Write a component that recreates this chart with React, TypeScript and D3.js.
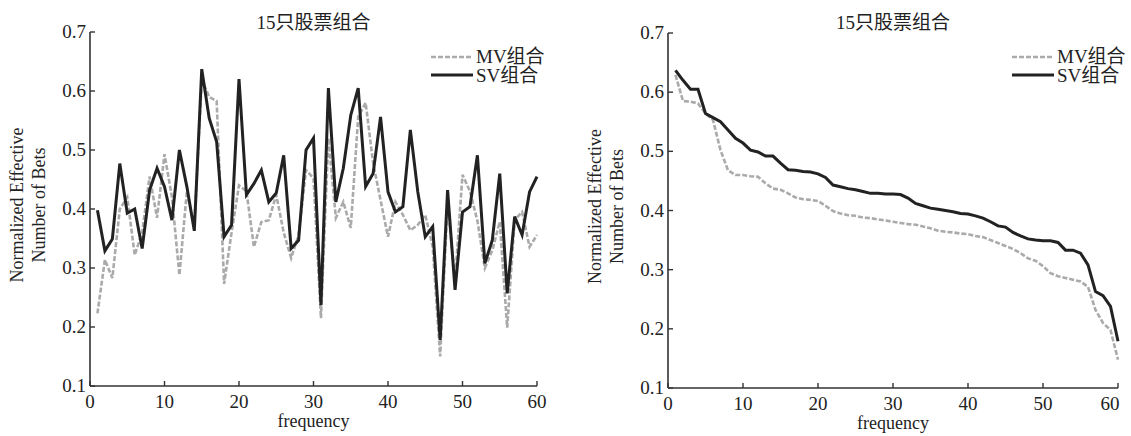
import React from 'react';
import * as d3 from 'd3';

// frequency 1..60
const freq = d3.range(1, 61);

// left panel: original order
const mvLeft = [
  0.223, 0.314, 0.283, 0.40, 0.42, 0.322, 0.36, 0.455, 0.385, 0.493,
  0.42, 0.288, 0.43, 0.37, 0.62, 0.59, 0.583, 0.273, 0.36, 0.44,
  0.43, 0.336, 0.378, 0.381, 0.424, 0.36, 0.317, 0.356, 0.466, 0.452,
  0.215, 0.52, 0.385, 0.412, 0.368, 0.556, 0.58, 0.478, 0.415, 0.353,
  0.412, 0.39, 0.364, 0.373, 0.39, 0.336, 0.15, 0.41, 0.28, 0.458,
  0.43, 0.38, 0.30, 0.33, 0.378, 0.199, 0.381, 0.395, 0.336, 0.356
];
const svLeft = [
  0.398, 0.329, 0.349, 0.477, 0.393, 0.40, 0.333, 0.432, 0.469, 0.438,
  0.381, 0.50, 0.438, 0.363, 0.637, 0.554, 0.514, 0.353, 0.373, 0.62,
  0.424, 0.443, 0.466, 0.412, 0.427, 0.491, 0.333, 0.347, 0.50, 0.52,
  0.237, 0.605, 0.412, 0.469, 0.559, 0.605, 0.438, 0.46, 0.556, 0.429,
  0.395, 0.404, 0.534, 0.429, 0.353, 0.37, 0.178, 0.432, 0.263, 0.395,
  0.404, 0.491, 0.308, 0.347, 0.46, 0.257, 0.387, 0.356, 0.429, 0.455
];

// right panel: sorted
const mvRight = [
  0.629, 0.585, 0.584, 0.581, 0.564, 0.553, 0.502, 0.468, 0.46, 0.46,
  0.458, 0.457, 0.446, 0.437, 0.435, 0.429, 0.422, 0.419, 0.418, 0.416,
  0.408, 0.399, 0.395, 0.392, 0.391, 0.388, 0.387, 0.385, 0.383, 0.381,
  0.379, 0.377, 0.376, 0.373, 0.37, 0.366, 0.364, 0.363, 0.361, 0.36,
  0.357, 0.355, 0.35, 0.345, 0.34, 0.335, 0.328, 0.319, 0.315, 0.306,
  0.294, 0.289, 0.286, 0.283, 0.28, 0.271, 0.232, 0.21, 0.198, 0.148
];
const svRight = [
  0.637, 0.62, 0.605, 0.605, 0.564, 0.557, 0.55, 0.536, 0.522, 0.514,
  0.502, 0.499, 0.492, 0.492, 0.48, 0.469, 0.468, 0.466, 0.465, 0.462,
  0.456, 0.443, 0.44, 0.437, 0.435, 0.432, 0.429, 0.429, 0.428, 0.428,
  0.427, 0.421, 0.412, 0.408, 0.404, 0.402, 0.40, 0.398, 0.395, 0.394,
  0.391, 0.387, 0.381, 0.374, 0.372, 0.363, 0.357, 0.352, 0.35, 0.349,
  0.349, 0.346, 0.333, 0.333, 0.328, 0.308, 0.263, 0.256, 0.238, 0.179
];

const yTicks = [0.1, 0.2, 0.3, 0.4, 0.5, 0.6, 0.7];
const xTicks = [0, 10, 20, 30, 40, 50, 60];
const title = '15只股票组合';
const seriesNames = ['MV组合', 'SV组合'];

const FONT = '"Liberation Serif", "DejaVu Serif", "Noto Sans CJK SC", serif';
const MV_COLOR = '#aaaaaa';
const SV_COLOR = '#222222';

function Panel({ left, right, top, bottom, mv, sv, lastShift }) {
  const x = d3.scaleLinear().domain([0, 60]).range([left, right]);
  const y = d3.scaleLinear().domain([0.1, 0.7]).range([bottom, top]);
  const line = d3
    .line<number>()
    .x((d, i) => x(freq[i]))
    .y(d => y(d));
  const cx = (left + right) / 2;
  const labelY = (top + bottom) / 2 - 4;
  const legX = right - 106;

  return (
    <g fontFamily={FONT} fill="#222">
      <text x={cx} y={29} textAnchor="middle" fontSize={19}>
        {title}
      </text>

      <path d={line(mv)} fill="none" stroke={MV_COLOR} strokeWidth={2.6} strokeDasharray="5 2" />
      <path d={line(sv)} fill="none" stroke={SV_COLOR} strokeWidth={3} strokeLinejoin="miter" />

      {/* axes */}
      <line x1={left} x2={left} y1={top} y2={bottom} stroke="#333" strokeWidth={1.6} />
      <line x1={left} x2={right} y1={bottom} y2={bottom} stroke="#333" strokeWidth={1.6} />
      {yTicks.map(t => (
        <g key={'y' + t}>
          <line x1={left} x2={left + 5} y1={y(t)} y2={y(t)} stroke="#333" strokeWidth={1.4} />
          <text x={left - 4} y={y(t) + 6} textAnchor="end" fontSize={19}>
            {d3.format('.1f')(t)}
          </text>
        </g>
      ))}
      {xTicks.map(t => (
        <g key={'x' + t}>
          <line x1={x(t)} x2={x(t)} y1={bottom} y2={bottom - 5} stroke="#333" strokeWidth={1.4} />
          <text
            x={x(t) + (t === 60 ? lastShift : 0)}
            y={bottom + 22}
            textAnchor="middle"
            fontSize={19}
          >
            {t}
          </text>
        </g>
      ))}

      <text x={cx} y={bottom + 41} textAnchor="middle" fontSize={18}>
        frequency
      </text>
      <text
        transform={`translate(${left - 67},${labelY}) rotate(-90)`}
        textAnchor="middle"
        fontSize={18}
      >
        <tspan x={0} dy={0}>Normalized Effective</tspan>
        <tspan x={0} dy={22}>Number of Bets</tspan>
      </text>

      {/* legend */}
      <line x1={legX} x2={legX + 42} y1={57} y2={57} stroke={MV_COLOR} strokeWidth={2.6} strokeDasharray="5 2" />
      <line x1={legX} x2={legX + 42} y1={75} y2={75} stroke={SV_COLOR} strokeWidth={3} />
      <text x={legX + 45} y={63} fontSize={19}>{seriesNames[0]}</text>
      <text x={legX + 45} y={82} fontSize={19}>{seriesNames[1]}</text>
    </g>
  );
}

export default function App() {
  return (
    <svg
      width={1131}
      height={436}
      style={{ position: 'absolute', left: 0, top: 0, background: '#fff' }}
    >
      <Panel left={90} right={537} top={32} bottom={386} mv={mvLeft} sv={svLeft} lastShift={0} />
      <Panel left={668} right={1118} top={33} bottom={388} mv={mvRight} sv={svRight} lastShift={-8} />
    </svg>
  );
}
